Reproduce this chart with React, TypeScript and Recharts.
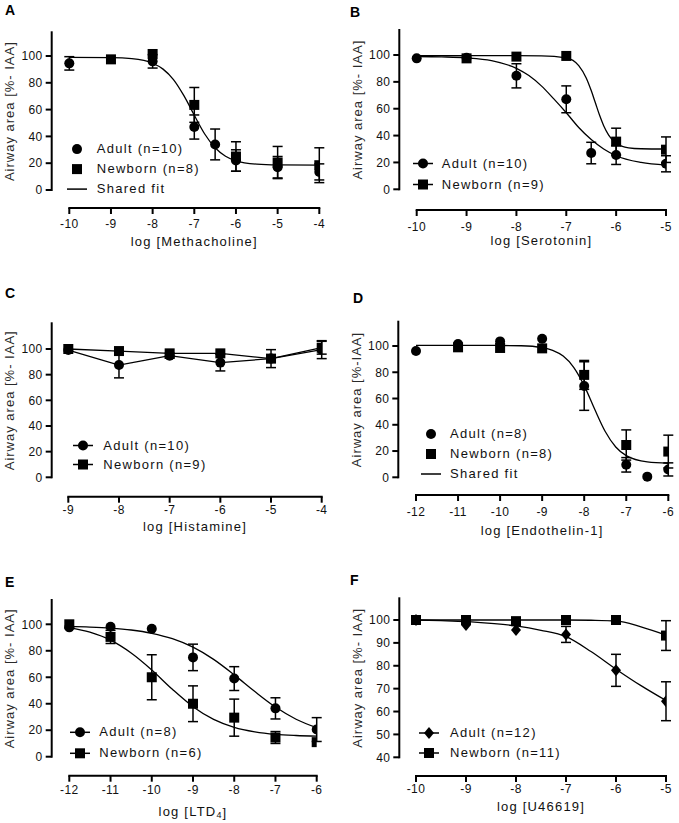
import React from "react";
import {
  ComposedChart,
  ErrorBar,
  Legend,
  Line,
  ReferenceLine,
  Scatter,
  XAxis,
  YAxis,
} from "recharts";

const FONT = '"Liberation Sans", Arial, Helvetica, sans-serif';
const INK = "#111";

// shared y ticks
const yTicksPct = [0, 20, 40, 60, 80, 100];
const yTicksU46619 = [40, 50, 60, 70, 80, 90, 100];

// A – methacholine
const mchTicks = [-10, -9, -8, -7, -6, -5, -4];
const mchAdultX = [-10, -8, -7, -6.5, -6, -5, -4];
const mchAdult = [94.5, 96, 47, 34, 22, 17, 13.5];
const mchAdultErr = [5, 5, 9, 11.5, 8, 8, 6];
const mchNewbornX = [-9, -8, -7, -6, -5, -4];
const mchNewborn = [97.5, 101.5, 63.5, 25, 20.5, 18.5];
const mchNewbornErr = [0, 0, 13, 11, 12, 13];
const mchFitX = [-10, -9, -8.5, -8, -7.75, -7.5, -7.25, -7, -6.75, -6.5, -6.25, -6, -5.5, -5, -4];
const mchFit = [99, 98.8, 98, 94.6, 90.2, 82.4, 70.4, 55.8, 41.8, 31.5, 25.2, 21.8, 19.3, 18.7, 18.5];

// B – serotonin
const serTicks = [-10, -9, -8, -7, -6, -5];
const serAdultX = [-10, -9, -8, -7, -6.5, -6, -5];
const serAdult = [97.5, 98, 84.5, 67, 27, 25.5, 19];
const serAdultErr = [0, 0, 9, 10, 8, 7, 6];
const serNewbornX = [-9, -8, -7, -6, -5];
const serNewborn = [97.5, 98.8, 99.3, 35.5, 29.5];
const serNewbornErr = [0, 0, 0, 10, 9.5];
const serAdultFitX = [-10, -9.5, -9, -8.5, -8, -7.75, -7.5, -7.25, -7, -6.75, -6.5, -6.25, -6, -5.5, -5];
const serAdultFit = [98.9, 98.6, 97.9, 95.8, 90.1, 84.7, 77, 67.3, 57, 46, 37, 30, 25, 20, 18];
const serNewbornFitX = [-10, -9, -8, -7.5, -7, -6.75, -6.6, -6.5, -6.42, -6.33, -6.25, -6.15, -6, -5.75, -5.5, -5];
const serNewbornFit = [99.5, 99.5, 99.5, 99.4, 97.9, 92.1, 82.9, 73.5, 64.8, 54.9, 47.4, 40.4, 34.3, 30.9, 30.2, 30];

// C – histamine
const hisTicks = [-9, -8, -7, -6, -5, -4];
const hisX = [-9, -8, -7, -6, -5, -4];
const hisAdult = [99.2, 87.5, 94.8, 89.4, 92.5, 99.5];
const hisAdultErr = [0, 10, 2, 6.5, 7, 7];
const hisNewborn = [100, 98.4, 96.6, 96.6, 92.5, 101];
const hisNewbornErr = [0, 0, 0, 0, 0, 5];

// D – endothelin-1
const etTicks = [-12, -11, -10, -9, -8, -7, -6];
const etAdultX = [-12, -11, -10, -9, -8, -7, -6.5, -6];
const etAdult = [96.2, 101.5, 103.5, 105.5, 69.5, 9.5, 0.5, 6];
const etAdultErr = [0, 0, 0, 0, 18.5, 5.5, 0, 5];
const etNewbornX = [-11, -10, -9, -8, -7, -6];
const etNewborn = [99, 98.5, 98.2, 78, 24.6, 19.6];
const etNewbornErr = [0, 0, 0, 11, 11.5, 12.5];
const etFitX = [-12, -11, -10, -9.5, -9, -8.75, -8.5, -8.25, -8, -7.75, -7.5, -7.25, -7, -6.5, -6];
const etFit = [100.5, 100.5, 100.4, 100.2, 98.8, 96.7, 92.3, 83.8, 69.8, 51.8, 34.9, 23.1, 16.5, 11.7, 10.7];

// E – LTD4
const ltTicks = [-12, -11, -10, -9, -8, -7, -6];
const ltX = [-12, -11, -10, -9, -8, -7, -6];
const ltAdult = [97.7, 98.2, 96.7, 75, 59, 36.5, 20.5];
const ltAdultErr = [0, 0, 0, 10, 9, 8, 9];
const ltNewborn = [100, 90.5, 60, 40, 29.5, 14.5, 11];
const ltNewbornErr = [0, 5, 17, 13.5, 14, 4.5, 0];
const ltFitX = [-12, -11.5, -11, -10.5, -10, -9.5, -9, -8.5, -8, -7.5, -7, -6.5, -6];
const ltAdultFit = [98.4, 97.9, 97.1, 95.7, 93.2, 89.1, 82.7, 73.5, 61.8, 49.2, 37.5, 28.3, 21.9];
const ltNewbornFit = [97.5, 94, 88, 78.3, 65.5, 50.9, 37.8, 28.2, 22.2, 18.8, 16.9, 16, 15.5];

// F – U46619
const u4Ticks = [-10, -9, -8, -7, -6, -5];
const u4X = [-10, -9, -8, -7, -6, -5];
const u4Adult = [100, 97.8, 95.6, 93.7, 78, 64.5];
const u4AdultErr = [0, 0, 0, 3.5, 7, 8.5];
const u4Newborn = [100, 100, 99.5, 100, 100, 93.2];
const u4NewbornErr = [0, 0, 0, 0, 0, 6.5];
const u4AdultFitX = [-10, -9.5, -9, -8.5, -8, -7.5, -7, -6.5, -6, -5.5, -5];
const u4AdultFit = [100, 99.7, 99.3, 98.5, 97.4, 95.5, 92.7, 86.2, 78.5, 71.3, 64.8];
const u4NewbornFitX = [-10, -9, -8, -7, -6.5, -6, -5.5, -5];
const u4NewbornFit = [100, 100, 100, 100, 99.9, 99.6, 97, 93.4];

type Kind = "circle" | "square" | "diamond";
type Pt = { x: number; y: number; err?: number };

const zip = (xs: number[], ys: number[], errs?: number[]): Pt[] =>
  xs.map((x, i) => ({ x, y: ys[i], err: errs ? errs[i] : undefined }));

function Mark({ kind, cx, cy }: { kind: Kind; cx: number; cy: number }) {
  if (kind === "square")
    return <rect x={cx - 5} y={cy - 5} width={10} height={10} fill="#000" />;
  if (kind === "diamond")
    return (
      <polygon
        points={`${cx},${cy - 6} ${cx + 5},${cy} ${cx},${cy + 6} ${cx - 5},${cy}`}
        fill="#000"
      />
    );
  return <circle cx={cx} cy={cy} r={5} fill="#000" />;
}

// pixel anchors of each panel (page coordinates)
type Geo = {
  left: number; top: number; w: number; h: number;
  axisX: number; x0: number; x1: number;
  topY: number; y1: number; y0: number; axisY: number;
  tickGap: number; titleGap: number;
};

type LegendItem = { label: string; kind: Kind | "line"; line: boolean };

type PanelCfg = {
  letter: string;
  letterPos: [number, number];
  g: Geo;
  xTicks: number[];
  yTicks: number[];
  xTitle: React.ReactNode;
  yTitle: string;
  fits: { pts: Pt[]; curve: "monotone" | "linear" }[];
  series: { kind: Kind; pts: Pt[] }[];
  legend: { mx: number; my: number; rowH: number; tx: number; items: LegendItem[] };
};

const YW = 44;
const XH = 30;
const TS = 6;

function Panel({ cfg }: { cfg: PanelCfg }) {
  const { g, xTicks, yTicks, legend } = cfg;
  const xFirst = xTicks[0];
  const xLast = xTicks[xTicks.length - 1];
  const yMin = yTicks[0];
  const yMax = yTicks[yTicks.length - 1];
  const pxX = (g.x1 - g.x0) / (xLast - xFirst);
  const xDom: [number, number] = [xFirst - (g.x0 - g.axisX) / pxX, xLast];
  const pxY = (g.y0 - g.y1) / (yMax - yMin);
  const yDom: [number, number] = [
    yMin - (g.axisY - g.y0) / pxY,
    yMax + (g.y1 - g.topY) / pxY,
  ];
  const margin = {
    left: g.axisX - g.left - YW,
    top: g.topY - g.top,
    right: g.left + g.w - g.x1,
    bottom: g.top + g.h - g.axisY - XH,
  };

  const xLabel = () => (
    <text
      x={(g.x0 + g.x1) / 2 - g.left}
      y={g.axisY + g.titleGap - g.top}
      textAnchor="middle"
      dominantBaseline="central"
      fontSize={13}
      letterSpacing={1.2}
      fill={INK}
      fontFamily={FONT}
    >
      {cfg.xTitle}
    </text>
  );
  const ycx = g.axisX - 42 - g.left;
  const ycy = (g.y0 + g.topY) / 2 - g.top;
  const yLabel = () => (
    <text
      x={ycx}
      y={ycy}
      transform={`rotate(-90 ${ycx} ${ycy})`}
      textAnchor="middle"
      dominantBaseline="central"
      fontSize={13}
      letterSpacing={1}
      fill="#2a2a2a"
      fontFamily={FONT}
    >
      {cfg.yTitle}
    </text>
  );

  const legendContent = () => (
    <div style={{ fontFamily: FONT, fontSize: 13, letterSpacing: "1.3px", color: INK }}>
      {legend.items.map((it) => (
        <div
          key={it.label}
          style={{ display: "flex", alignItems: "center", height: legend.rowH, lineHeight: `${legend.rowH}px` }}
        >
          <svg width={22} height={legend.rowH} style={{ flex: "none" }}>
            {it.line && (
              <line x1={1} x2={21} y1={legend.rowH / 2} y2={legend.rowH / 2} stroke="#000" strokeWidth={1.5} />
            )}
            {it.kind !== "line" && <Mark kind={it.kind} cx={11} cy={legend.rowH / 2} />}
          </svg>
          <span style={{ marginLeft: legend.tx - legend.mx - 11, whiteSpace: "nowrap" }}>{it.label}</span>
        </div>
      ))}
    </div>
  );

  const tickStyle = { fontSize: 12, fill: INK, fontFamily: FONT };
  const tickLine = { stroke: "#000", strokeWidth: 2 };

  return (
    <div style={{ position: "absolute", left: g.left, top: g.top }}>
      <ComposedChart width={g.w} height={g.h} margin={margin}>
        <XAxis
          type="number"
          dataKey="x"
          domain={xDom}
          allowDataOverflow
          ticks={xTicks}
          interval={0}
          height={XH}
          axisLine={false}
          tickLine={tickLine}
          tickSize={TS}
          tickMargin={Math.max(0, g.tickGap - TS - 4.2)}
          tick={tickStyle}
          label={xLabel}
        />
        <YAxis
          type="number"
          domain={yDom}
          allowDataOverflow
          ticks={yTicks}
          interval={0}
          width={YW}
          axisLine={false}
          tickLine={tickLine}
          tickSize={TS}
          tickMargin={3}
          tick={tickStyle}
          label={yLabel}
        />
        <ReferenceLine
          segment={[{ x: xFirst, y: yDom[0] }, { x: xLast, y: yDom[0] }]}
          stroke="#000"
          strokeWidth={2}
          strokeLinecap="square"
          ifOverflow="visible"
        />
        <ReferenceLine
          segment={[{ x: xDom[0], y: yMin }, { x: xDom[0], y: yDom[1] }]}
          stroke="#000"
          strokeWidth={2}
          strokeLinecap="square"
          ifOverflow="visible"
        />
        {cfg.fits.map((f, i) => (
          <Line
            key={`fit${i}`}
            data={f.pts}
            dataKey="y"
            type={f.curve}
            dot={false}
            activeDot={false}
            stroke="#000"
            strokeWidth={1.3}
            legendType="none"
            isAnimationActive={false}
          />
        ))}
        {cfg.series.map((s, i) => (
          <Scatter
            key={`s${i}`}
            data={s.pts}
            dataKey="y"
            legendType="none"
            isAnimationActive={false}
            shape={(p: any) => <Mark kind={s.kind} cx={p.cx} cy={p.cy} />}
          >
            <ErrorBar dataKey="err" direction="y" width={5} stroke="#000" strokeWidth={1.5} />
          </Scatter>
        ))}
        <Legend
          layout="vertical"
          align="center"
          verticalAlign="middle"
          content={legendContent}
          wrapperStyle={{
            left: legend.mx - 11 - g.left,
            top: legend.my - legend.rowH / 2 - g.top,
            width: 170,
          }}
        />
      </ComposedChart>
    </div>
  );
}

const withLine = (label: string, kind: Kind): LegendItem => ({ label, kind, line: true });
const noLine = (label: string, kind: Kind): LegendItem => ({ label, kind, line: false });
const fitItem: LegendItem = { label: "Shared fit", kind: "line", line: true };

const panels: PanelCfg[] = [
  {
    letter: "A",
    letterPos: [5, 5],
    g: { left: 0, top: 0, w: 339, h: 265, axisX: 51.7, x0: 69.3, x1: 319.3, topY: 32.3, y1: 56, y0: 190, axisY: 208, tickGap: 15.5, titleGap: 33 },
    xTicks: mchTicks,
    yTicks: yTicksPct,
    xTitle: "log [Methacholine]",
    yTitle: "Airway area [%- IAA]",
    fits: [{ pts: zip(mchFitX, mchFit), curve: "monotone" }],
    series: [
      { kind: "circle", pts: zip(mchAdultX, mchAdult, mchAdultErr) },
      { kind: "square", pts: zip(mchNewbornX, mchNewborn, mchNewbornErr) },
    ],
    legend: { mx: 77.3, my: 149, rowH: 20.2, tx: 96.7, items: [noLine("Adult (n=10)", "circle"), noLine("Newborn (n=8)", "square"), fitItem] },
  },
  {
    letter: "B",
    letterPos: [350, 7],
    g: { left: 340, top: 0, w: 339, h: 265, axisX: 399.3, x0: 416.7, x1: 666, topY: 30, y1: 55, y0: 189.3, axisY: 210, tickGap: 16.7, titleGap: 30 },
    xTicks: serTicks,
    yTicks: yTicksPct,
    xTitle: "log [Serotonin]",
    yTitle: "Airway area [%- IAA]",
    fits: [
      { pts: zip(serAdultFitX, serAdultFit), curve: "monotone" },
      { pts: zip(serNewbornFitX, serNewbornFit), curve: "monotone" },
    ],
    series: [
      { kind: "circle", pts: zip(serAdultX, serAdult, serAdultErr) },
      { kind: "square", pts: zip(serNewbornX, serNewborn, serNewbornErr) },
    ],
    legend: { mx: 422.7, my: 163.3, rowH: 21, tx: 441.7, items: [withLine("Adult (n=10)", "circle"), withLine("Newborn (n=9)", "square")] },
  },
  {
    letter: "C",
    letterPos: [5, 288],
    g: { left: 0, top: 270, w: 339, h: 272, axisX: 51.7, x0: 68.3, x1: 321.7, topY: 323.3, y1: 349, y0: 477.3, axisY: 496.7, tickGap: 13.3, titleGap: 30 },
    xTicks: hisTicks,
    yTicks: yTicksPct,
    xTitle: "log [Histamine]",
    yTitle: "Airway area [%- IAA]",
    fits: [
      { pts: zip(hisX, hisAdult), curve: "linear" },
      { pts: zip(hisX, hisNewborn), curve: "linear" },
    ],
    series: [
      { kind: "circle", pts: zip(hisX, hisAdult, hisAdultErr) },
      { kind: "square", pts: zip(hisX, hisNewborn, hisNewbornErr) },
    ],
    legend: { mx: 82.7, my: 445, rowH: 19, tx: 103.3, items: [withLine("Adult (n=10)", "circle"), withLine("Newborn (n=9)", "square")] },
  },
  {
    letter: "D",
    letterPos: [353, 293],
    g: { left: 340, top: 270, w: 339, h: 272, axisX: 398.3, x0: 416, x1: 668.3, topY: 321.7, y1: 346, y0: 477.3, axisY: 495, tickGap: 16.7, titleGap: 35 },
    xTicks: etTicks,
    yTicks: yTicksPct,
    xTitle: "log [Endothelin-1]",
    yTitle: "Airway area [%-IAA]",
    fits: [{ pts: zip(etFitX, etFit), curve: "monotone" }],
    series: [
      { kind: "circle", pts: zip(etAdultX, etAdult, etAdultErr) },
      { kind: "square", pts: zip(etNewbornX, etNewborn, etNewbornErr) },
    ],
    legend: { mx: 430.7, my: 434, rowH: 20, tx: 450, items: [noLine("Adult (n=8)", "circle"), noLine("Newborn (n=8)", "square"), fitItem] },
  },
  {
    letter: "E",
    letterPos: [5, 577],
    g: { left: 0, top: 540, w: 339, h: 283, axisX: 51.7, x0: 69.3, x1: 316.7, topY: 600, y1: 624.3, y0: 756.7, axisY: 775.7, tickGap: 14.3, titleGap: 36 },
    xTicks: ltTicks,
    yTicks: yTicksPct,
    xTitle: (
      <>
        log [LTD<tspan fontSize={9} dy={3}>4</tspan>
        <tspan dy={-3}>]</tspan>
      </>
    ),
    yTitle: "Airway area [%- IAA]",
    fits: [
      { pts: zip(ltFitX, ltAdultFit), curve: "monotone" },
      { pts: zip(ltFitX, ltNewbornFit), curve: "monotone" },
    ],
    series: [
      { kind: "circle", pts: zip(ltX, ltAdult, ltAdultErr) },
      { kind: "square", pts: zip(ltX, ltNewborn, ltNewbornErr) },
    ],
    legend: { mx: 80, my: 732.7, rowH: 20.6, tx: 99.3, items: [withLine("Adult (n=8)", "circle"), withLine("Newborn (n=6)", "square")] },
  },
  {
    letter: "F",
    letterPos: [350, 575],
    g: { left: 340, top: 540, w: 339, h: 283, axisX: 399.3, x0: 416, x1: 666, topY: 598.3, y1: 620, y0: 757.3, axisY: 776, tickGap: 12.3, titleGap: 30.7 },
    xTicks: u4Ticks,
    yTicks: yTicksU46619,
    xTitle: "log [U46619]",
    yTitle: "Airway area [%- IAA]",
    fits: [
      { pts: zip(u4AdultFitX, u4AdultFit), curve: "monotone" },
      { pts: zip(u4NewbornFitX, u4NewbornFit), curve: "monotone" },
    ],
    series: [
      { kind: "diamond", pts: zip(u4X, u4Adult, u4AdultErr) },
      { kind: "square", pts: zip(u4X, u4Newborn, u4NewbornErr) },
    ],
    legend: { mx: 429.3, my: 733.3, rowH: 20, tx: 450, items: [withLine("Adult (n=12)", "diamond"), withLine("Newborn (n=11)", "square")] },
  },
];

export default function App() {
  return (
    <div
      style={{
        position: "absolute",
        left: 0,
        top: 0,
        width: 679,
        height: 823,
        background: "#fff",
        fontFamily: FONT,
        letterSpacing: "0.4px",
      }}
    >
      {panels.map((p) => (
        <React.Fragment key={p.letter}>
          <Panel cfg={p} />
          <div
            style={{
              position: "absolute",
              left: p.letterPos[0],
              top: p.letterPos[1] - 2,
              fontSize: 14,
              lineHeight: "14px",
              fontWeight: "bold",
              color: "#000",
              letterSpacing: 0,
            }}
          >
            {p.letter}
          </div>
        </React.Fragment>
      ))}
    </div>
  );
}
